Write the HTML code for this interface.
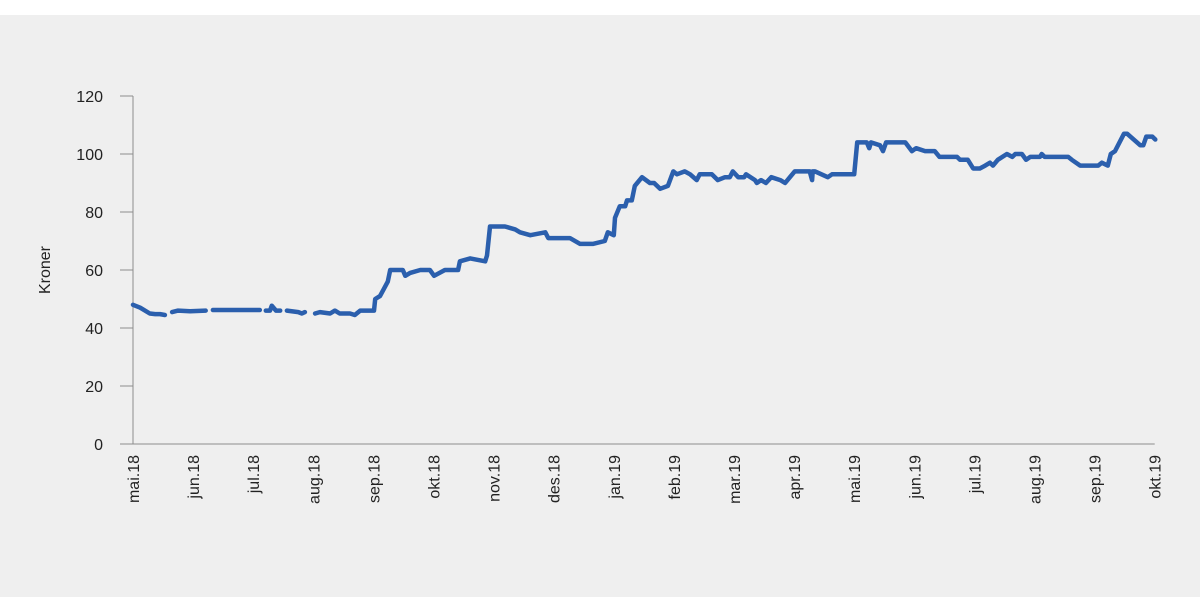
<!DOCTYPE html>
<html><head><meta charset="utf-8"><style>
html,body{margin:0;padding:0;background:#fff;}
svg{display:block;font-family:"Liberation Sans",sans-serif;}
</style></head><body>
<svg id="chart" width="1200" height="612">
<rect x="0" y="15" width="1200" height="582" fill="#efefef"/>
<g id="axes"></g>
<path id="line" fill="none" stroke="#2b5fad" stroke-width="4.5" stroke-linejoin="round" stroke-linecap="round"/>
</svg>
<script>
const monthLabels=["mai.18","jun.18","jul.18","aug.18","sep.18","okt.18","nov.18","des.18","jan.19","feb.19","mar.19","apr.19","mai.19","jun.19","jul.19","aug.19","sep.19","okt.19"];
const yTicks=[0,20,40,60,80,100,120];
const xMonths=[0,.12,.28,.37,.45,.53,null,.65,.75,.95,1.21,null,1.33,2.11,null,2.21,2.28,2.31,2.38,2.45,null,2.56,2.75,2.81,2.86,null,
3.03,3.11,3.28,3.36,3.44,3.61,3.69,3.78,4.01,4.03,4.11,4.24,4.28,4.49,4.53,4.61,4.78,4.94,5.01,5.19,5.41,5.44,5.61,5.86,5.89,5.94,6.19,6.36,6.44,6.61,6.86,6.91,7.27,7.44,7.65,7.85,7.90,8.00,8.02,8.10,8.19,8.22,8.30,8.35,8.47,8.60,8.67,8.77,8.90,8.99,9.05,9.18,9.27,9.38,9.43,9.63,9.73,9.85,9.93,9.98,10.07,10.17,10.20,10.35,10.38,10.45,10.53,10.62,10.77,10.85,10.93,11.01,11.26,11.30,11.31,11.35,11.56,11.63,12.00,12.05,12.21,12.25,12.28,12.43,12.48,12.53,12.85,12.96,13.03,13.18,13.34,13.42,13.71,13.76,13.89,13.98,14.09,14.18,14.26,14.31,14.39,14.54,14.63,14.68,14.79,14.86,14.93,15.09,15.12,15.17,15.56,15.62,15.76,16.06,16.12,16.22,16.27,16.34,16.49,16.54,16.76,16.81,16.86,16.96,17.01];
const prices=[48,47,45,44.8,44.8,44.5,null,45.5,46,45.8,46,null,46.2,46.2,null,46,46,47.7,46,46,null,46,45.5,45,45.5,null,
45,45.5,45,46,45,45,44.5,46,46,50,51,56,60,60,58,59,60,60,58,60,60,63,64,63,65,75,75,74,73,72,73,71,71,69,69,70,73,72,78,82,82,84,84,89,92,90,90,88,89,94,93,94,93,91,93,93,91,92,92,94,92,92,93,91,90,91,90,92,91,90,92,94,94,91,94,94,92,93,93,104,104,102,104,103,101,104,104,101,102,101,101,99,99,98,98,95,95,96,97,96,98,100,99,100,100,98,99,99,100,99,99,98,96,96,97,96,100,101,107,107,103,103,106,106,105];
const X0=133,PX=60.1,Y0=444,PY=2.9;
const xs=m=>X0+m*PX, ys=v=>Y0-v*PY;
const ns="http://www.w3.org/2000/svg";
const ax=document.getElementById('axes');
function mk(t,a,txt){const e=document.createElementNS(ns,t);for(const k in a)e.setAttribute(k,a[k]);if(txt!==undefined)e.textContent=txt;ax.appendChild(e);return e;}
let e=mk('line',{x1:X0,y1:96,x2:X0,y2:Y0,stroke:'#8c8c8c','stroke-width':1});


e=mk('line',{x1:X0,y1:Y0,x2:xs(17),y2:Y0,stroke:'#8c8c8c','stroke-width':1});


yTicks.forEach(v=>{
 const t=mk('line',{x1:120,y1:ys(v),x2:X0,y2:ys(v),stroke:'#8c8c8c','stroke-width':1});
 
 
 const l=mk('text',{x:103,y:ys(v)+6,'text-anchor':'end','font-size':16,fill:'#222'},v);
 
 
});
monthLabels.forEach((s,i)=>{
 const x=xs(i);
 const l=mk('text',{x:0,y:0,'text-anchor':'end','font-size':16,fill:'#222',transform:`translate(${x+6},455) rotate(-90)`},s);
 
 
});
e=mk('text',{x:0,y:0,'text-anchor':'middle','font-size':16,fill:'#222',transform:'translate(50,270) rotate(-90)'},'Kroner');


let d='',pen=false;
for(let i=0;i<prices.length;i++){
 if(prices[i]===null||xMonths[i]===null){pen=false;continue;}
 d+=(pen?'L':'M')+xs(xMonths[i]).toFixed(1)+','+ys(prices[i]).toFixed(1);
 pen=true;
}
document.getElementById('line').setAttribute('d',d);
</script>
</body></html>
